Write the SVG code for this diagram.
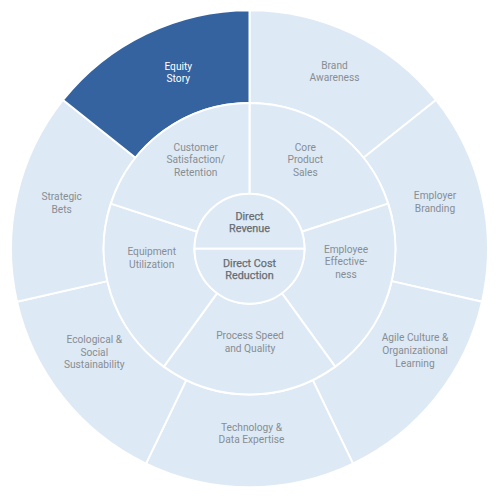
<svg xmlns="http://www.w3.org/2000/svg" width="500" height="500" viewBox="0 0 500 500">
<style>
.seg{fill:#dde9f5;stroke:#ffffff;stroke-width:2;stroke-linejoin:round}
.dark{fill:#3563a0}
text{font-family:Roboto,"Liberation Sans",sans-serif;font-size:10.2px;fill:#888d93;text-anchor:middle}
.w{fill:#ffffff}
.c{fill:#686d73;font-size:10.8px;stroke:#686d73;stroke-width:0.25}
</style>
<rect width="500" height="500" fill="#ffffff"/>
<g id="outer-ring">
<g id="brand-awareness">
<path class="seg" d="M249.5 10.2 A238.5 238.5 0 0 1 435.97 100 L363.49 157.8 A145.8 145.8 0 0 0 249.5 102.9 Z"/>
<text x="334.5" y="68.5">Brand</text><text x="334.5" y="81">Awareness</text>
</g>
<g id="employer-branding">
<path class="seg" d="M435.97 100 A238.5 238.5 0 0 1 482.02 301.77 L391.65 281.14 A145.8 145.8 0 0 0 363.49 157.8 Z"/>
<text x="435" y="199.3">Employer</text><text x="435" y="212">Branding</text>
</g>
<g id="agile-culture">
<path class="seg" d="M482.02 301.77 A238.5 238.5 0 0 1 352.98 463.58 L312.76 380.06 A145.8 145.8 0 0 0 391.65 281.14 Z"/>
<text x="415" y="341.3">Agile Culture &amp;</text><text x="415" y="354">Organizational</text><text x="415" y="366.7">Learning</text>
</g>
<g id="technology-data">
<path class="seg" d="M352.98 463.58 A238.5 238.5 0 0 1 146.02 463.58 L186.24 380.06 A145.8 145.8 0 0 0 312.76 380.06 Z"/>
<text x="251.5" y="430.6">Technology &amp;</text><text x="251.5" y="443.3">Data Expertise</text>
</g>
<g id="ecological-social">
<path class="seg" d="M146.02 463.58 A238.5 238.5 0 0 1 16.98 301.77 L107.35 281.14 A145.8 145.8 0 0 0 186.24 380.06 Z"/>
<text x="94.3" y="343">Ecological &amp;</text><text x="94.3" y="355.5">Social</text><text x="94.3" y="368">Sustainability</text>
</g>
<g id="strategic-bets">
<path class="seg" d="M16.98 301.77 A238.5 238.5 0 0 1 63.03 100 L135.51 157.8 A145.8 145.8 0 0 0 107.35 281.14 Z"/>
<text x="61.7" y="200">Strategic</text><text x="61.7" y="212.5">Bets</text>
</g>
<g id="equity-story">
<path class="seg dark" d="M63.03 100 A238.5 238.5 0 0 1 249.5 10.2 L249.5 102.9 A145.8 145.8 0 0 0 135.51 157.8 Z"/>
<text class="w" x="178.3" y="69.5">Equity</text><text class="w" x="178.3" y="82.2">Story</text>
</g>
</g>
<g id="middle-ring">
<g id="core-product-sales">
<path class="seg" d="M249.5 102.9 A145.8 145.8 0 0 1 388.16 203.64 L301.81 231.7 A55 55 0 0 0 249.5 193.7 Z"/>
<text x="305.3" y="150.7">Core</text><text x="305.3" y="163.3">Product</text><text x="305.3" y="176">Sales</text>
</g>
<g id="employee-effectiveness">
<path class="seg" d="M388.16 203.64 A145.8 145.8 0 0 1 335.2 366.65 L281.83 293.2 A55 55 0 0 0 301.81 231.7 Z"/>
<text x="346" y="252.7">Employee</text><text x="346" y="265.2">Effective-</text><text x="346" y="277.5">ness</text>
</g>
<g id="process-speed">
<path class="seg" d="M335.2 366.65 A145.8 145.8 0 0 1 163.8 366.65 L217.17 293.2 A55 55 0 0 0 281.83 293.2 Z"/>
<text x="250" y="339.3">Process Speed</text><text x="250" y="352">and Quality</text>
</g>
<g id="equipment-utilization">
<path class="seg" d="M163.8 366.65 A145.8 145.8 0 0 1 110.84 203.64 L197.19 231.7 A55 55 0 0 0 217.17 293.2 Z"/>
<text x="151.7" y="255">Equipment</text><text x="151.7" y="267.7">Utilization</text>
</g>
<g id="customer-satisfaction">
<path class="seg" d="M110.84 203.64 A145.8 145.8 0 0 1 249.5 102.9 L249.5 193.7 A55 55 0 0 0 197.19 231.7 Z"/>
<text x="195.7" y="151">Customer</text><text x="195.7" y="163.3">Satisfaction/</text><text x="195.7" y="175.5">Retention</text>
</g>
</g>
<g id="center">
<g id="direct-revenue">
<path class="seg" d="M194.5 248.7 A55 55 0 0 1 304.5 248.7 Z"/>
<text class="c" x="249.5" y="219.6">Direct</text><text class="c" x="249.5" y="231.6">Revenue</text>
</g>
<g id="direct-cost-reduction">
<path class="seg" d="M304.5 248.7 A55 55 0 0 1 194.5 248.7 Z"/>
<text class="c" x="249.5" y="267.2">Direct Cost</text><text class="c" x="249.5" y="279.3">Reduction</text>
</g>
</g>
<g id="connectors"/>
</svg>
